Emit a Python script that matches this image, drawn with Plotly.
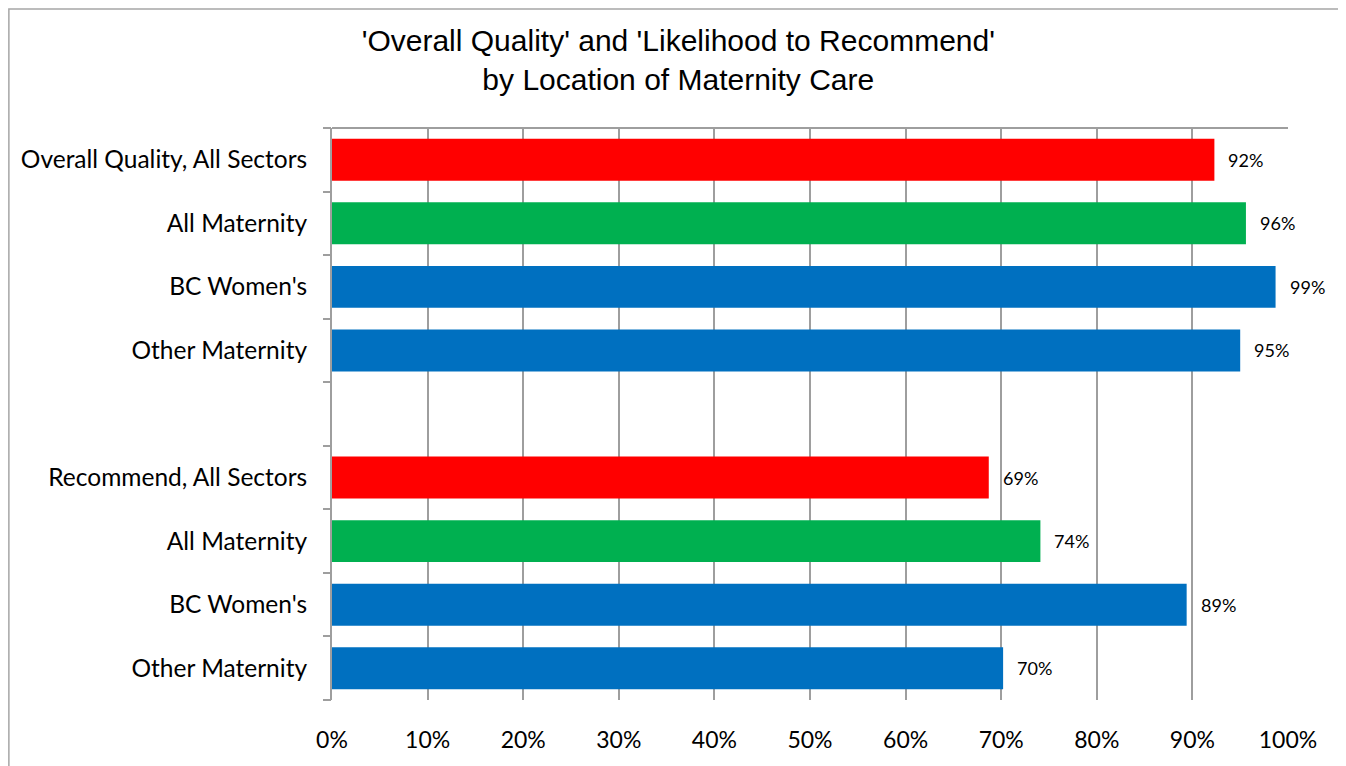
import plotly.graph_objects as go

# Data (top to bottom)
categories = ["Overall Quality, All Sectors", "All Maternity", "BC Women's", "Other Maternity",
              "", "Recommend, All Sectors", "All Maternity", "BC Women's", "Other Maternity"]
values = [92.3, 95.6, 98.7, 95.0, None, 68.7, 74.1, 89.4, 70.2]
labels = ["92%", "96%", "99%", "95%", "", "69%", "74%", "89%", "70%"]
colors = ["#FF0000", "#00B050", "#0070C0", "#0070C0", "#FFFFFF",
          "#FF0000", "#00B050", "#0070C0", "#0070C0"]
xticks = [0, 10, 20, 30, 40, 50, 60, 70, 80, 90, 100]
xticklabels = [f"{v}%" for v in xticks]

positions = list(range(len(categories)))
bar_pos = [p for p, v in zip(positions, values) if v is not None]
bar_val = [v for v in values if v is not None]
bar_col = [c for c, v in zip(colors, values) if v is not None]
bar_lab = [l for l, v in zip(labels, values) if v is not None]

LABEL_FONT = "Lato, Calibri, Carlito, sans-serif"
GRID = "#9E9E9E"

fig = go.Figure()
fig.add_trace(go.Bar(
    x=bar_val, y=bar_pos, orientation="h",
    marker=dict(color=bar_col, line=dict(width=0)),
    width=0.66, showlegend=False, hoverinfo="skip",
))
# invisible trace on overlay axis for boundary ticks
fig.add_trace(go.Scatter(x=[None], y=[None], yaxis="y2", showlegend=False))

for v, p, l in zip(bar_val, bar_pos, bar_lab):
    fig.add_annotation(x=v, y=p, text=l, showarrow=False, xanchor="left",
                       xshift=12, font=dict(family=LABEL_FONT, size=18, color="#000"))

n = len(categories)
yr = [n - 0.5, -0.5]
fig.update_layout(
    width=1346, height=766,
    paper_bgcolor="white", plot_bgcolor="white",
    margin=dict(l=324, r=66, t=120, b=74, autoexpand=False),
    title=dict(
        text="'Overall Quality' and 'Likelihood to Recommend'<br>by Location of Maternity Care",
        x=0.498, xanchor="center", y=0.944, yanchor="middle",
        font=dict(family="Liberation Sans, Arial, sans-serif", size=30, color="#000"),
    ),
    xaxis=dict(
        range=[0, 100], tickvals=xticks, ticktext=xticklabels,
        showgrid=True, gridcolor=GRID, gridwidth=2,
        zeroline=False, showline=False, ticks="",
        ticklabelstandoff=24, automargin=False,
        tickfont=dict(family=LABEL_FONT, size=23, color="#000"),
    ),
    yaxis=dict(
        range=yr, tickvals=positions, ticktext=categories,
        showgrid=False, zeroline=False, ticks="",
        showline=True, linecolor=GRID, linewidth=2,
        ticklabelstandoff=18, automargin=False,
        tickfont=dict(family=LABEL_FONT, size=24.5, color="#000"),
    ),
    yaxis2=dict(
        range=yr, overlaying="y", side="left",
        tickvals=[p - 0.5 for p in positions] + [n - 0.5],
        ticks="outside", ticklen=8, tickwidth=2, tickcolor=GRID,
        showticklabels=False, showgrid=False, zeroline=False, showline=False,
        automargin=False,
    ),
    shapes=[
        dict(type="line", xref="paper", yref="paper", x0=0, x1=1, y0=1, y1=1,
             line=dict(color=GRID, width=2)),
        dict(type="rect", xref="paper", yref="paper", x0=-0.338, x1=1.06,
             y0=-0.2, y1=1.208, line=dict(color="#A6A6A6", width=1.5), layer="below"),
    ],
)

fig.write_html("out.html")
